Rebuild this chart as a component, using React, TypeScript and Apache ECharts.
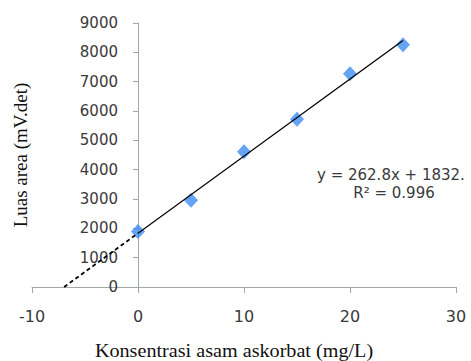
import React, { useEffect, useRef } from "react";
import * as echarts from "echarts";

const concentrations = [0, 5, 10, 15, 20, 25];
const areas = [1890, 2960, 4610, 5720, 7270, 8260];
const slope = 262.8;
const intercept = 1832;
const xTicks = { min: -10, max: 30, interval: 10 };
const yTicks = { min: 0, max: 9000, interval: 1000 };
const equationText = "y = 262.8x + 1832.";
const r2Text = "R² = 0.996";
const xTitle = "Konsentrasi asam askorbat (mg/L)";
const yTitle = "Luas area (mV.det)";

export default function App() {
  const ref = useRef<HTMLDivElement>(null);
  useEffect(() => {
    if (!ref.current) return;
    const chart = echarts.init(ref.current, null, { renderer: "svg" });
    const xZero = -intercept / slope;
    const xEnd = concentrations[concentrations.length - 1];
    const axisColor = "#a0a8a8";
    const labelColor = "#3a3a3a";
    chart.setOption({
      animation: false,
      grid: { left: 32, right: 15, top: 23, bottom: 74, outerBoundsMode: "none", containLabel: false },
      xAxis: {
        type: "value",
        min: xTicks.min,
        max: xTicks.max,
        interval: xTicks.interval,
        splitLine: { show: false },
        axisLine: { show: true, onZero: true, lineStyle: { color: axisColor, width: 1 } },
        axisTick: { show: true, length: 6, lineStyle: { color: axisColor } },
        axisLabel: {
          fontSize: 16,
          color: labelColor,
          margin: 21,
          fontFamily: "DejaVu Sans",
          formatter: (v: number) => String(v),
        },
      },
      yAxis: {
        type: "value",
        position: "left",
        min: yTicks.min,
        max: yTicks.max,
        interval: yTicks.interval,
        splitLine: { show: false },
        axisLine: { show: true, onZero: false, lineStyle: { color: axisColor, width: 1 } },
        axisTick: { show: true, length: 5, lineStyle: { color: axisColor } },
        axisLabel: {
          fontSize: 15,
          color: labelColor,
          margin: 20,
          fontFamily: "DejaVu Sans",
          formatter: (v: number) => String(v),
        },
      },
      series: [
        {
          type: "line",
          data: [
            [xZero, 0],
            [0, intercept],
          ],
          symbol: "none",
          lineStyle: { color: "#000", width: 1.8, type: [4, 3] },
          z: 3,
        },
        {
          type: "line",
          data: [
            [0, intercept],
            [xEnd, slope * xEnd + intercept],
          ],
          symbol: "none",
          lineStyle: { color: "#000", width: 1.2 },
          z: 3,
        },
        {
          type: "scatter",
          data: concentrations.map((c, i) => [c, areas[i]]),
          symbol: "diamond",
          symbolSize: [14, 15],
          itemStyle: { color: "#3f8cf2" },
          z: 2,
        },
      ],
      graphic: [
        {
          type: "text",
          x: 317,
          y: 175,
          style: {
            text: equationText,
            fontSize: 15,
            fontFamily: "DejaVu Sans",
            fill: labelColor,
            verticalAlign: "middle",
            align: "left",
          },
        },
        {
          type: "text",
          x: 394,
          y: 193,
          style: {
            text: r2Text,
            fontSize: 15,
            fontFamily: "DejaVu Sans",
            fill: labelColor,
            verticalAlign: "middle",
            align: "center",
          },
        },
        {
          type: "text",
          x: 234,
          y: 351,
          scaleX: 1.12,
          style: {
            text: xTitle,
            fontSize: 18,
            fontFamily: "Liberation Serif",
            fill: "#111",
            verticalAlign: "middle",
            align: "center",
          },
        },
        {
          type: "text",
          x: 20,
          y: 155,
          rotation: Math.PI / 2,
          style: {
            text: yTitle,
            fontSize: 19,
            fontFamily: "Liberation Serif",
            fill: "#111",
            verticalAlign: "middle",
            align: "center",
          },
        },
      ],
    });
    // Place the y axis where x = 0, using the x axis' own scale.
    const px0 = chart.convertToPixel({ xAxisIndex: 0 }, 0) as number;
    const pxMin = chart.convertToPixel({ xAxisIndex: 0 }, xTicks.min) as number;
    chart.setOption({ yAxis: { offset: -(px0 - pxMin) } });
    return () => chart.dispose();
  }, []);
  return (
    <div
      ref={ref}
      style={{ position: "absolute", left: 0, top: 0, width: 471, height: 361, background: "#fff" }}
    />
  );
}
